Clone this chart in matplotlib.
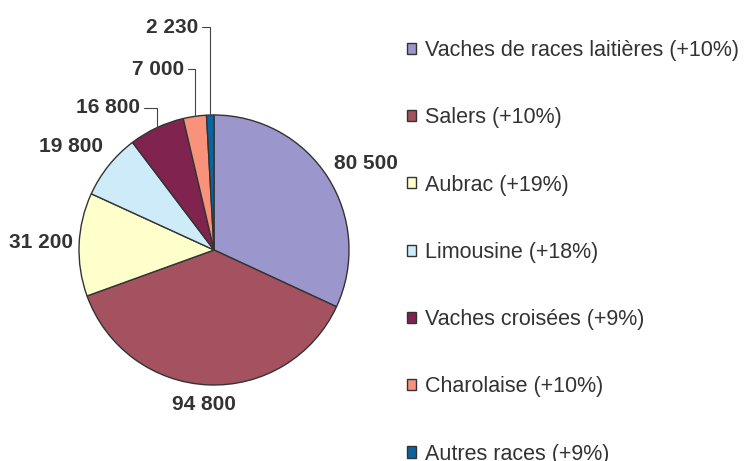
import matplotlib.pyplot as plt
from matplotlib.patches import Patch
import numpy as np

plt.rcParams['font.family'] = ['Liberation Sans', 'DejaVu Sans']

races = ['Vaches de races laitières (+10%)', 'Salers (+10%)', 'Aubrac (+19%)',
         'Limousine (+18%)', 'Vaches croisées (+9%)', 'Charolaise (+10%)',
         'Autres races (+9%)']
effectifs = [80500, 94800, 31200, 19800, 16800, 7000, 2230]
etiquettes = ['80 500', '94 800', '31 200', '19 800', '16 800', '7 000', '2 230']
couleurs = ['#9b96cb', '#a4525f', '#ffffcc', '#cdebf9', '#80244f', '#f8927a', '#0a64a0']

# label positions (data units, pie radius = 1)
pos_txt = [(1.126, 0.644), (-0.074, -1.148), (-1.281, 0.052), (-1.059, 0.763),
           (-0.55, 1.055), (-0.22, 1.34), (-0.12, 1.65)]
leader = [False, False, False, False, True, True, True]

fig = plt.figure(figsize=(7.44, 4.61), dpi=100)
W, H = 744, 461
cx, cy, R = 214, 250, 135
ax = fig.add_axes([(cx - R) / W, (H - cy - R) / H, 2 * R / W, 2 * R / H])

wedges, _ = ax.pie(effectifs, colors=couleurs, startangle=90, counterclock=False,
                   radius=1, wedgeprops=dict(edgecolor='#333333', linewidth=1))
ax.set_xlim(-1, 1)
ax.set_ylim(-1, 1)
ax.set_aspect('equal')
ax.axis('off')

for w, lab, p, ld in zip(wedges, etiquettes, pos_txt, leader):
    if ld:
        a = np.deg2rad((w.theta1 + w.theta2) / 2)
        ax.annotate(lab, xy=(np.cos(a), np.sin(a)), xytext=p, ha='right', va='center',
                    fontsize=15, fontweight='bold', color='#333333',
                    arrowprops=dict(arrowstyle='-', color='#444444', lw=0.8,
                                    connectionstyle='angle,angleA=0,angleB=90,rad=0',
                                    shrinkA=1, shrinkB=0),
                    annotation_clip=False)
    else:
        ax.text(p[0], p[1], lab, ha='center', va='center', fontsize=15,
                fontweight='bold', color='#333333', clip_on=False)

handles = [Patch(facecolor=c, edgecolor='#333333', linewidth=1) for c in couleurs]
fig.legend(handles, races, loc='upper left', bbox_to_anchor=(407 / W, 1 - 40 / H),
           frameon=False, fontsize=15.5, handlelength=0.42, handleheight=0.42,
           handletextpad=0.4, labelspacing=2.15, borderpad=0, borderaxespad=0,
           labelcolor='#333333')

fig.savefig('out.png', dpi=100)
